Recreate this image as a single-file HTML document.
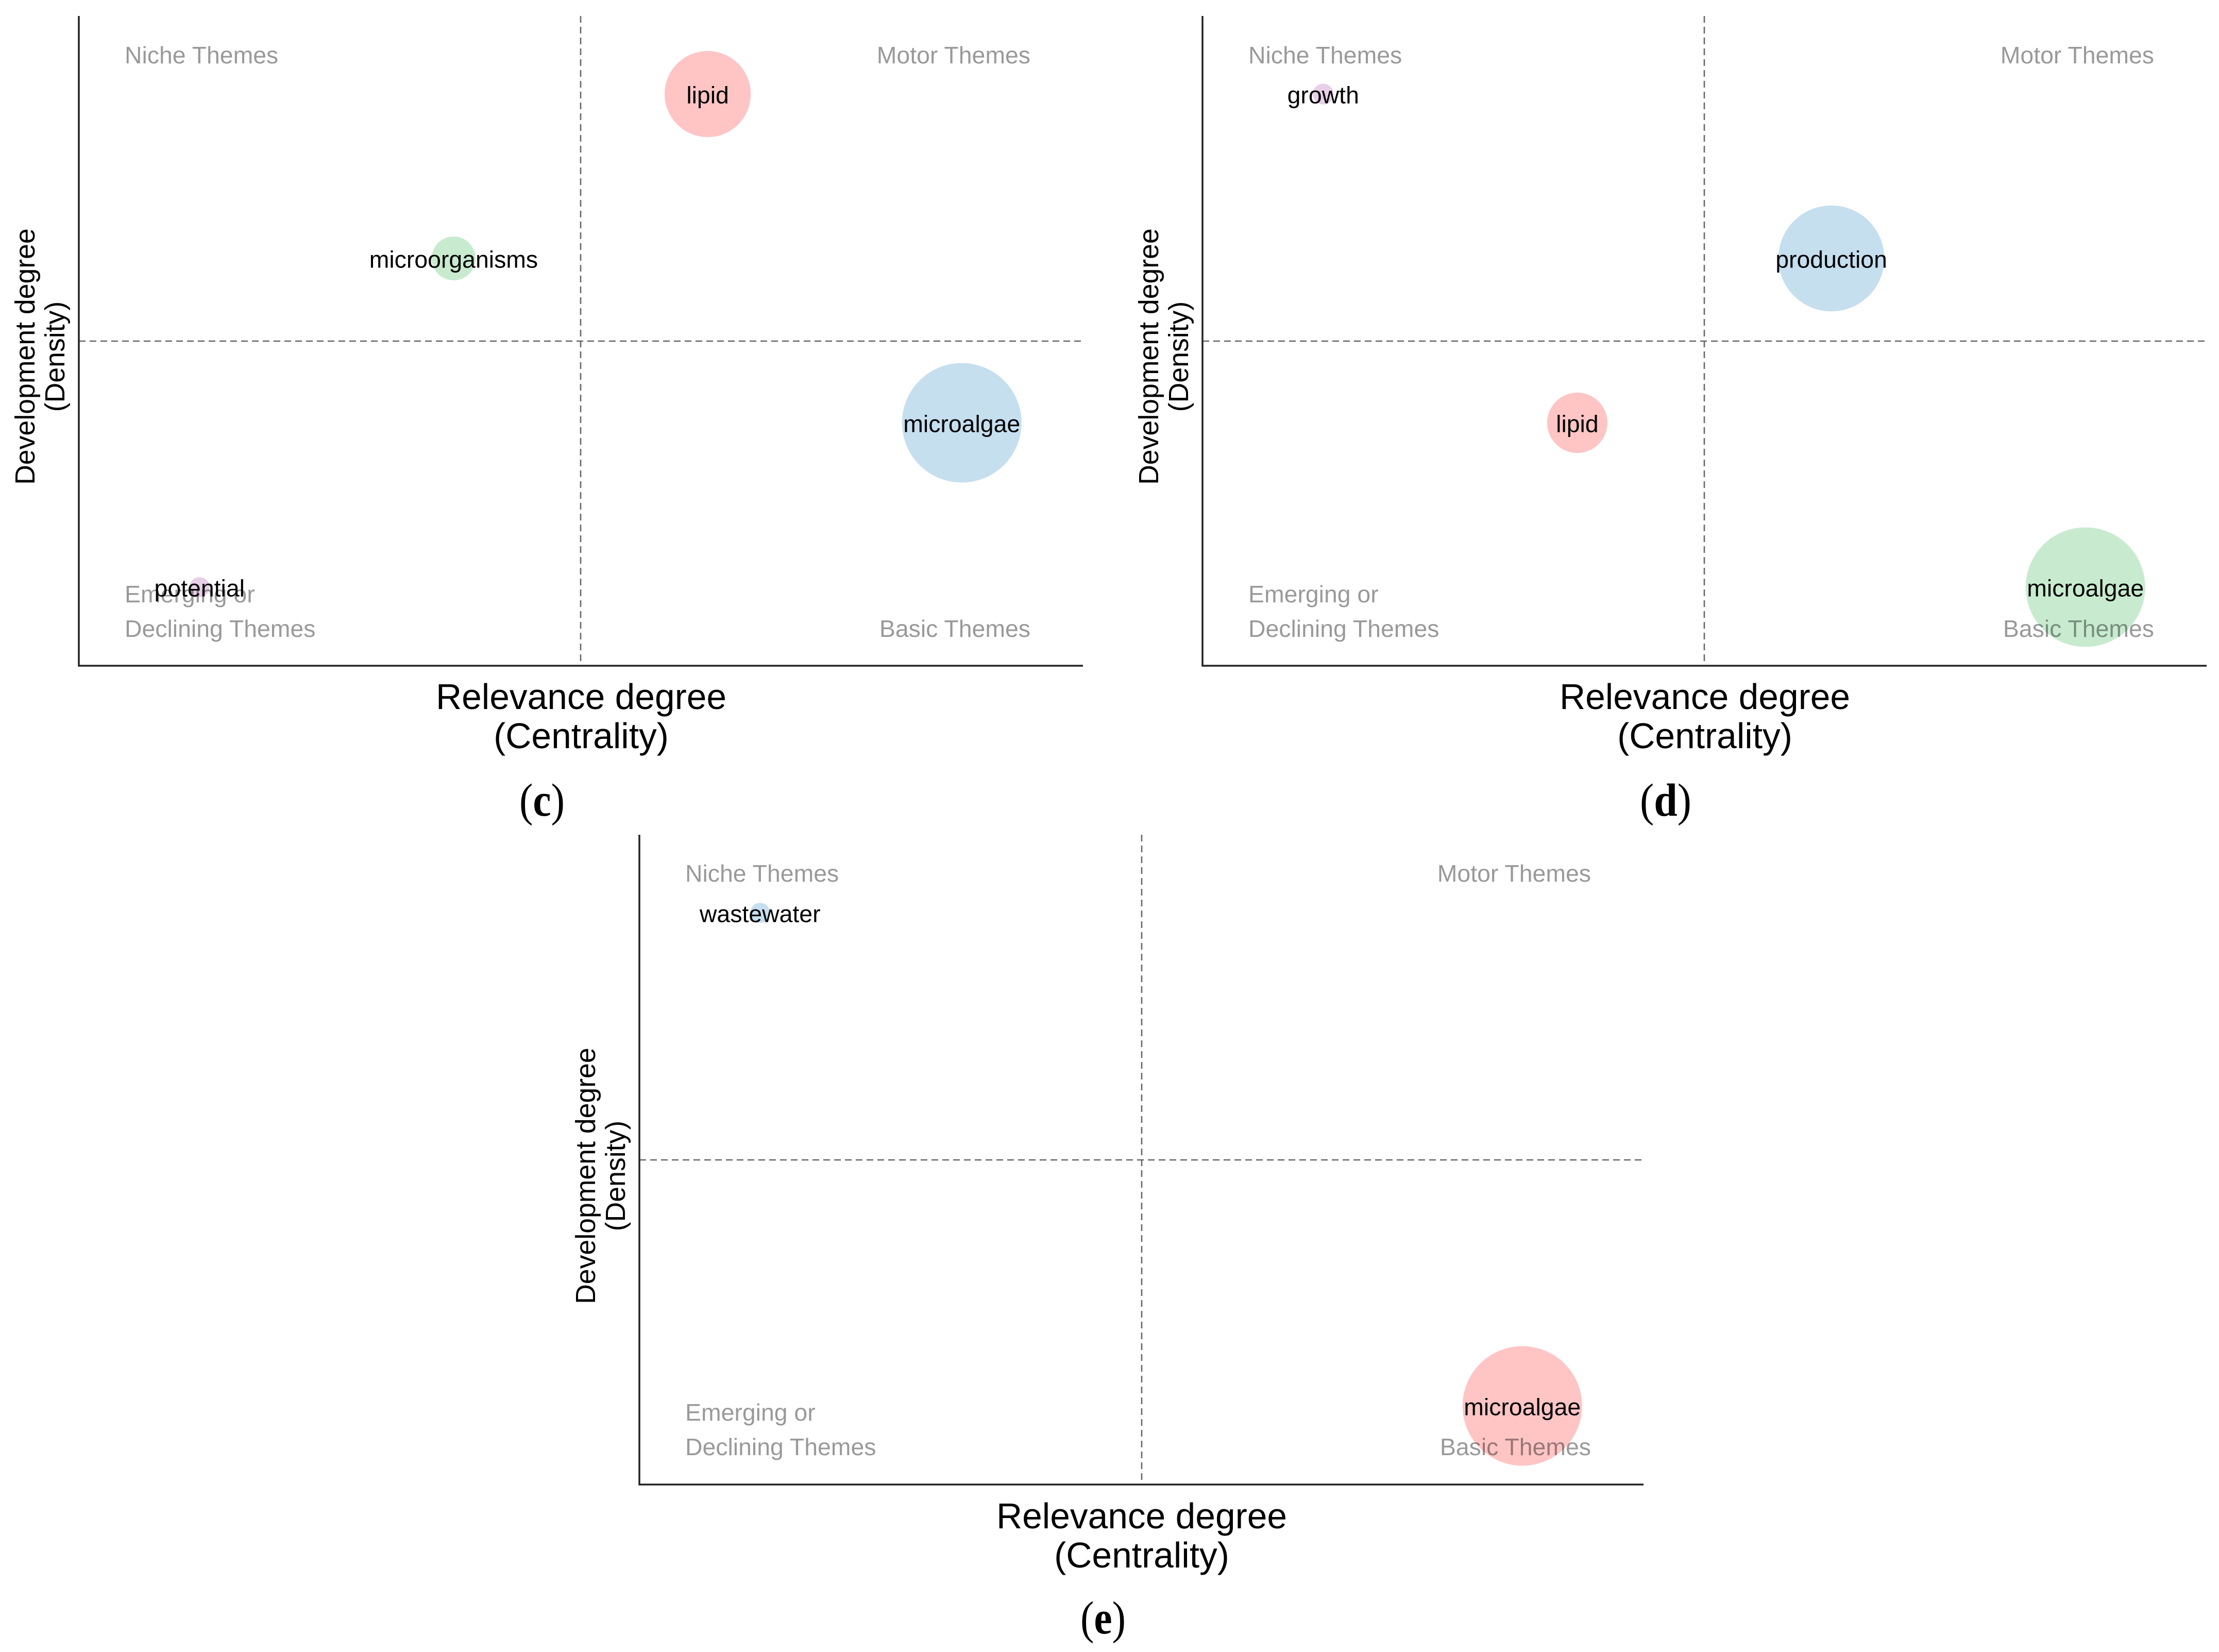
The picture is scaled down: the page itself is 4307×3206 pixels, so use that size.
<!DOCTYPE html>
<html lang="en">
<head>
<meta charset="utf-8">
<title>Thematic maps</title>
<style>
html,body{margin:0;padding:0;background:#fff;}
svg{display:block;font-family:"Liberation Sans",Arial,sans-serif;}
.quad{font-size:46.4px;fill:#000;fill-opacity:.4;}
.xt{font-size:69.5px;fill:#000;text-anchor:middle;}
.yt{font-size:53.6px;fill:#000;text-anchor:middle;}
.bub{font-size:46.4px;fill:#000;text-anchor:middle;}
.cap{font-family:"Liberation Serif",serif;font-size:90px;fill:#000;text-anchor:middle;}
.axis{stroke:#222;stroke-width:3.5;fill:none;}
.med{stroke:#666;stroke-width:2.6;stroke-dasharray:13 8;fill:none;}
</style>
</head>
<body>
<svg xmlns="http://www.w3.org/2000/svg" width="4307" height="3206" viewBox="0 0 4307 3206">
<rect width="4307" height="3206" fill="#fff"/>

<g id="panel-c" transform="translate(153,31)">
  <g id="marks-c"></g>
  <line class="med" x1="0" x2="1949" y1="631" y2="631"/>
  <line class="med" x1="974" x2="974" y1="0" y2="1260"/>
  <path class="axis" d="M0 0V1261H1949"/>
  <text class="quad" x="89" y="92">Niche Themes</text>
  <text class="quad" x="1847" y="92" text-anchor="end">Motor Themes</text>
  <text class="quad" x="89" y="1138">Emerging or</text>
  <text class="quad" x="89" y="1205">Declining Themes</text>
  <text class="quad" x="1847" y="1205" text-anchor="end">Basic Themes</text>
  <g id="labels-c"></g>
  <text class="xt" x="975" y="1345">Relevance degree</text>
  <text class="xt" x="975" y="1421">(Centrality)</text>
  <text class="yt" transform="translate(-86,661) rotate(-90)">Development degree</text>
  <text class="yt" transform="translate(-28,661) rotate(-90)">(Density)</text>
</g>

<g id="panel-d" transform="translate(2334,31)">
  <g id="marks-d"></g>
  <line class="med" x1="0" x2="1949" y1="631" y2="631"/>
  <line class="med" x1="974" x2="974" y1="0" y2="1260"/>
  <path class="axis" d="M0 0V1261H1949"/>
  <text class="quad" x="89" y="92">Niche Themes</text>
  <text class="quad" x="1847" y="92" text-anchor="end">Motor Themes</text>
  <text class="quad" x="89" y="1138">Emerging or</text>
  <text class="quad" x="89" y="1205">Declining Themes</text>
  <text class="quad" x="1847" y="1205" text-anchor="end">Basic Themes</text>
  <g id="labels-d"></g>
  <text class="xt" x="975" y="1345">Relevance degree</text>
  <text class="xt" x="975" y="1421">(Centrality)</text>
  <text class="yt" transform="translate(-86,661) rotate(-90)">Development degree</text>
  <text class="yt" transform="translate(-28,661) rotate(-90)">(Density)</text>
</g>

<g id="panel-e" transform="translate(1241,1620)">
  <g id="marks-e"></g>
  <line class="med" x1="0" x2="1949" y1="631" y2="631"/>
  <line class="med" x1="975" x2="975" y1="0" y2="1260"/>
  <path class="axis" d="M0 0V1261H1949"/>
  <text class="quad" x="89" y="91">Niche Themes</text>
  <text class="quad" x="1847" y="91" text-anchor="end">Motor Themes</text>
  <text class="quad" x="89" y="1137">Emerging or</text>
  <text class="quad" x="89" y="1204">Declining Themes</text>
  <text class="quad" x="1847" y="1204" text-anchor="end">Basic Themes</text>
  <g id="labels-e"></g>
  <text class="xt" x="975" y="1346">Relevance degree</text>
  <text class="xt" x="975" y="1422">(Centrality)</text>
  <text class="yt" transform="translate(-86,662) rotate(-90)">Development degree</text>
  <text class="yt" transform="translate(-28,662) rotate(-90)">(Density)</text>
</g>

<text class="cap" x="1052" y="1583" textLength="88" lengthAdjust="spacingAndGlyphs">(<tspan font-weight="bold">c</tspan>)</text>
<text class="cap" x="3233" y="1583" textLength="100" lengthAdjust="spacingAndGlyphs">(<tspan font-weight="bold">d</tspan>)</text>
<text class="cap" x="2141" y="3170" textLength="88" lengthAdjust="spacingAndGlyphs">(<tspan font-weight="bold">e</tspan>)</text>

<script>
// Panel (c)
const themesC = ['lipid', 'microorganisms', 'microalgae', 'potential'];
const centralityC = [3, 2, 4, 1];
const densityC = [4, 3, 2, 1];
const sizeC = [52, 13.5, 100, 2.8];
const colorsC = ['#ffc5c5', '#c8ebd0', '#c5dfef', '#e8cfe8'];

// Panel (d)
const themesD = ['growth', 'production', 'lipid', 'microalgae'];
const centralityD = [1, 3, 2, 4];
const densityD = [4, 3, 2, 1];
const sizeD = [3, 78.5, 25.5, 100];
const colorsD = ['#e8cfe8', '#c5dfef', '#ffc5c5', '#c8ebd0'];

// Panel (e)
const themesE = ['wastewater', 'microalgae'];
const centralityE = [1, 4];
const densityE = [4, 1];
const sizeE = [2.8, 100];
const colorsE = ['#c5dfef', '#ffc5c5'];

const NS = 'http://www.w3.org/2000/svg';
const plotWidth = 1948;
const plotHeight = 1260;
const domainMin = 0.525;
const domainMax = 4.475;
const maxRadius = 116;

function xScale(v) {
  return (v - domainMin) / (domainMax - domainMin) * plotWidth;
}
function yScale(v) {
  return plotHeight - (v - domainMin) / (domainMax - domainMin) * plotHeight;
}
function rScale(v) {
  return Math.sqrt(v / 100) * maxRadius;
}

function drawPanel(key, themes, xs, ys, sizes, colors) {
  const marks = document.getElementById('marks-' + key);
  const labels = document.getElementById('labels-' + key);
  themes.forEach(function (theme, i) {
    const circle = document.createElementNS(NS, 'circle');
    circle.setAttribute('cx', xScale(xs[i]));
    circle.setAttribute('cy', yScale(ys[i]));
    circle.setAttribute('r', rScale(sizes[i]));
    circle.setAttribute('fill', colors[i]);
    
    
    marks.appendChild(circle);

    const label = document.createElementNS(NS, 'text');
    label.setAttribute('class', 'bub');
    label.setAttribute('x', xScale(xs[i]));
    label.setAttribute('y', yScale(ys[i]) + 18);
    label.textContent = theme;
    
    
    labels.appendChild(label);
  });
}

drawPanel('c', themesC, centralityC, densityC, sizeC, colorsC);
drawPanel('d', themesD, centralityD, densityD, sizeD, colorsD);
drawPanel('e', themesE, centralityE, densityE, sizeE, colorsE);
</script>
</svg>
</body>
</html>
